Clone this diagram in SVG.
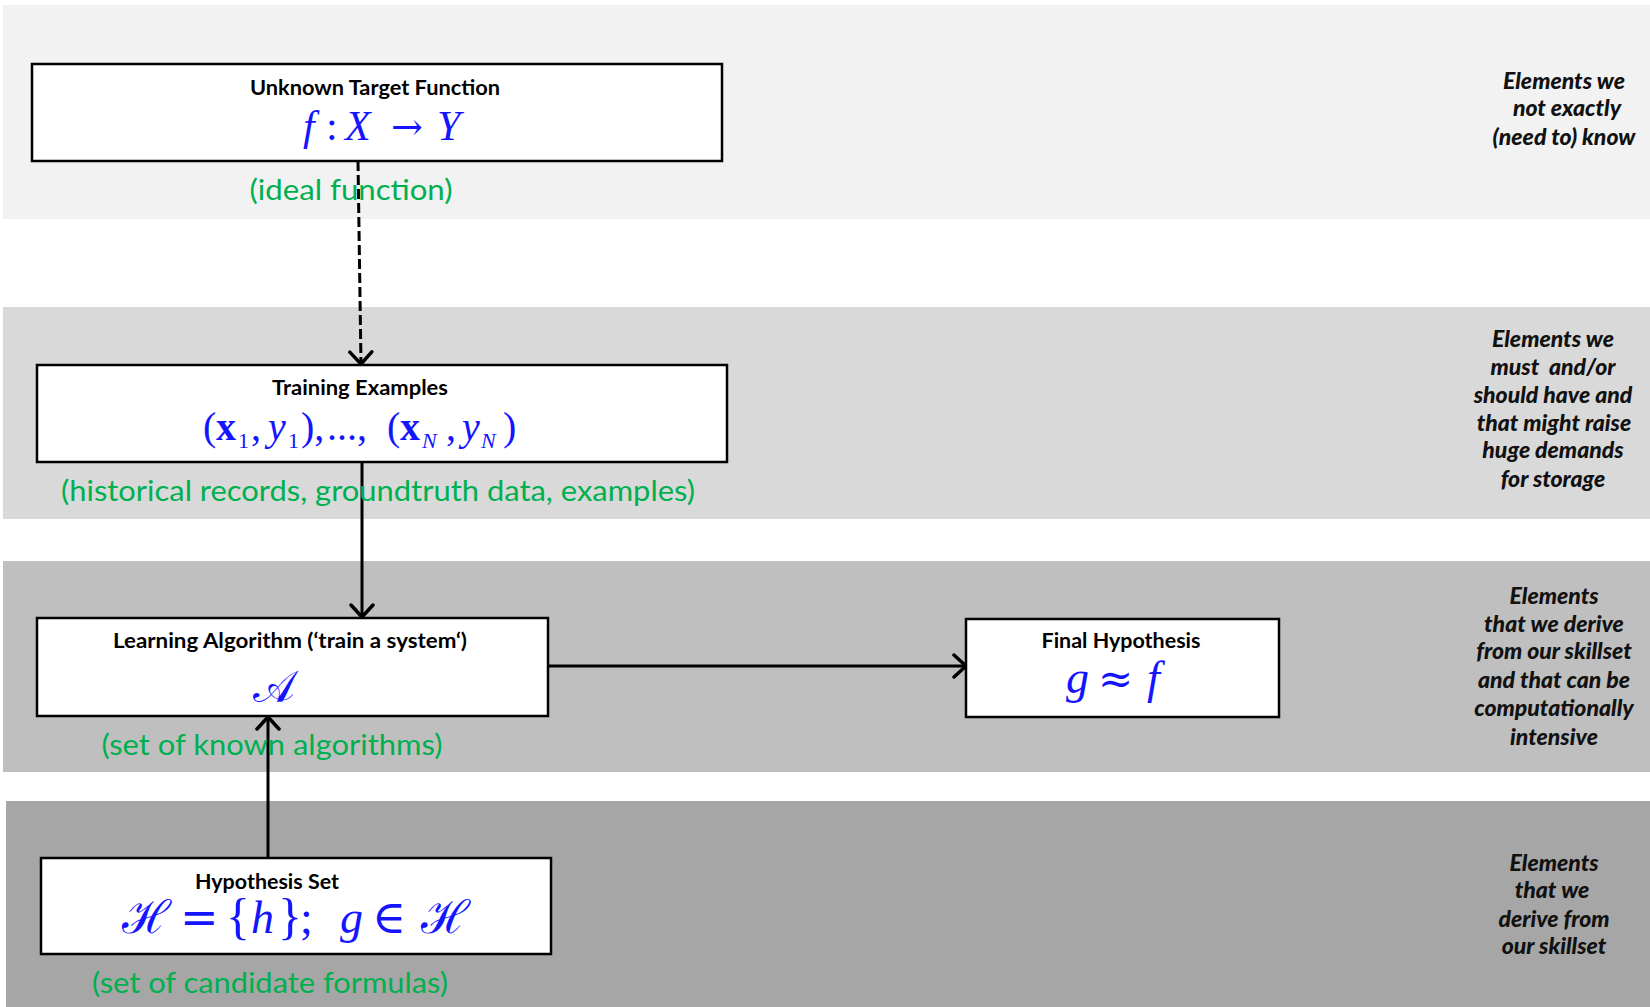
<svg xmlns="http://www.w3.org/2000/svg" width="1650" height="1007" viewBox="0 0 1650 1007">
  <style>
    .band { stroke: none; }
    .box { fill: #ffffff; stroke: #000000; stroke-width: 2.5; }
    .title { font-family: Lato, "Open Sans", sans-serif; font-weight: bold; font-size: 20px; fill: #000; text-anchor: middle; }
    .note { font-family: Lato, "Open Sans", sans-serif; font-size: 29px; fill: #00b050; text-anchor: middle; }
    .math { font-family: "Liberation Serif", "DejaVu Serif", serif; fill: #1414ff; }
    .it { font-style: italic; }
    .sym { font-family: "DejaVu Serif", serif; font-style: normal; }
    .side { font-family: Lato, "Open Sans", sans-serif; font-weight: 900; font-style: italic; font-size: 23px; fill: #111; text-anchor: middle; white-space: pre; }
    .conn { fill: none; stroke: #000; stroke-width: 3; }
    .dash { stroke-dasharray: 10 4; }
  </style>
  <defs>
    <marker id="open-arrow" viewBox="0 0 16 26" refX="14" refY="13" markerWidth="16" markerHeight="26" markerUnits="userSpaceOnUse" orient="auto">
      <path d="M2,2 L14,13 L2,24" fill="none" stroke="#000" stroke-width="3.5" stroke-dasharray="none" stroke-linecap="round" stroke-linejoin="round"/>
    </marker>
  </defs>

  <!-- background bands -->
  <rect width="1650" height="1007" fill="#ffffff"/>
  <g id="bands">
    <rect class="band" x="3" y="5" width="1647" height="214" fill="#f2f2f2"/>
    <rect class="band" x="3" y="307" width="1647" height="212" fill="#d9d9d9" stroke="#e6e6e6" stroke-width="2"/>
    <rect class="band" x="3" y="561" width="1647" height="211" fill="#bfbfbf" stroke="#ececec" stroke-width="2"/>
    <rect class="band" x="6" y="801" width="1644" height="206" fill="#a6a6a6" stroke="#ececec" stroke-width="2"/>
  </g>

  <!-- side captions -->
  <g id="captions">
    <text class="side"><tspan x="1564" y="89">Elements we</tspan><tspan x="1567" y="116">not exactly</tspan><tspan x="1564" y="145">(need to) know</tspan></text>
    <text class="side"><tspan x="1553" y="347">Elements we</tspan><tspan x="1553" y="375">must &#160;and/or</tspan><tspan x="1553" y="403">should have and</tspan><tspan x="1554" y="431">that might raise</tspan><tspan x="1553" y="458">huge demands</tspan><tspan x="1553" y="487">for storage</tspan></text>
    <text class="side"><tspan x="1554" y="604">Elements</tspan><tspan x="1554" y="632">that we derive</tspan><tspan x="1554" y="659">from our skillset</tspan><tspan x="1554" y="688">and that can be</tspan><tspan x="1554" y="716">computationally</tspan><tspan x="1554" y="745">intensive</tspan></text>
    <text class="side"><tspan x="1554" y="871">Elements</tspan><tspan x="1552" y="898">that we</tspan><tspan x="1554" y="927">derive from</tspan><tspan x="1554" y="954">our skillset</tspan></text>
  </g>

  <!-- connectors -->
  <g id="connectors">
    <path class="conn dash" d="M358,161 L361,364" marker-end="url(#open-arrow)"/>
    <path class="conn" d="M362,462 L362,617" marker-end="url(#open-arrow)"/>
    <path class="conn" d="M548,666 L966,666" marker-end="url(#open-arrow)"/>
    <path class="conn" d="M268,858 L268,717" marker-end="url(#open-arrow)"/>
  </g>

  <!-- nodes -->
  <g id="target-function">
    <rect class="box" x="32" y="64" width="690" height="97"/>
    <text class="title" x="375" y="95" textLength="250" lengthAdjust="spacingAndGlyphs">Unknown Target Function</text>
    <text class="math" y="140" font-size="42"><tspan class="it" x="303">f</tspan><tspan x="326">:</tspan><tspan class="it" x="345">X</tspan><tspan class="sym" x="391" font-size="38">→</tspan><tspan class="it" x="437">Y</tspan></text>
    <text class="note" x="351" y="200" textLength="203" lengthAdjust="spacingAndGlyphs">(ideal function)</text>
  </g>

  <g id="training-examples">
    <rect class="box" x="37" y="365" width="690" height="97"/>
    <text class="title" x="360" y="395" textLength="176" lengthAdjust="spacingAndGlyphs">Training Examples</text>
    <text class="math" font-size="40"><tspan x="203" y="440">(</tspan><tspan x="216" y="440" font-weight="bold">x</tspan><tspan x="238" y="448" font-size="22">1</tspan><tspan x="251" y="440">,</tspan><tspan class="it" x="268" y="440">y</tspan><tspan x="288" y="448" font-size="22">1</tspan><tspan x="301" y="440">),</tspan><tspan x="327" y="440">...,</tspan><tspan x="387" y="440">(</tspan><tspan x="400" y="440" font-weight="bold">x</tspan><tspan class="it" x="422" y="448" font-size="22">N</tspan><tspan x="446" y="440">,</tspan><tspan class="it" x="462" y="440">y</tspan><tspan class="it" x="481" y="448" font-size="22">N</tspan><tspan x="503" y="440">)</tspan></text>
    <text class="note" x="378" y="501" textLength="634" lengthAdjust="spacingAndGlyphs">(historical records, groundtruth data, examples)</text>
  </g>

  <g id="learning-algorithm">
    <rect class="box" x="37" y="618" width="511" height="98"/>
    <text class="title" x="290" y="648" textLength="354" lengthAdjust="spacingAndGlyphs">Learning Algorithm (‘train a system‘)</text>
    <text class="math" x="274" y="702" font-size="44" text-anchor="middle">𝒜</text>
    <text class="note" x="272" y="755" textLength="341" lengthAdjust="spacingAndGlyphs">(set of known algorithms)</text>
  </g>

  <g id="final-hypothesis">
    <rect class="box" x="966" y="619" width="313" height="98"/>
    <text class="title" x="1121" y="648" textLength="159" lengthAdjust="spacingAndGlyphs">Final Hypothesis</text>
    <text class="math" y="693" font-size="46"><tspan class="it" x="1066">g</tspan><tspan class="sym" x="1098" font-size="42">≈</tspan><tspan class="it" x="1147">f</tspan></text>
  </g>

  <g id="hypothesis-set">
    <rect class="box" x="41" y="858" width="510" height="96"/>
    <text class="title" x="267" y="889" textLength="144" lengthAdjust="spacingAndGlyphs">Hypothesis Set</text>
    <text class="math" y="933" font-size="46"><tspan x="122">ℋ</tspan><tspan class="sym" x="180">=</tspan><tspan x="226" font-size="50">{</tspan><tspan class="it" x="251">h</tspan><tspan x="278" font-size="50">}</tspan><tspan x="300">;</tspan><tspan class="it" x="340">g</tspan><tspan class="sym" x="372">∈</tspan><tspan x="421">ℋ</tspan></text>
    <text class="note" x="270" y="993" textLength="356" lengthAdjust="spacingAndGlyphs">(set of candidate formulas)</text>
  </g>
</svg>
